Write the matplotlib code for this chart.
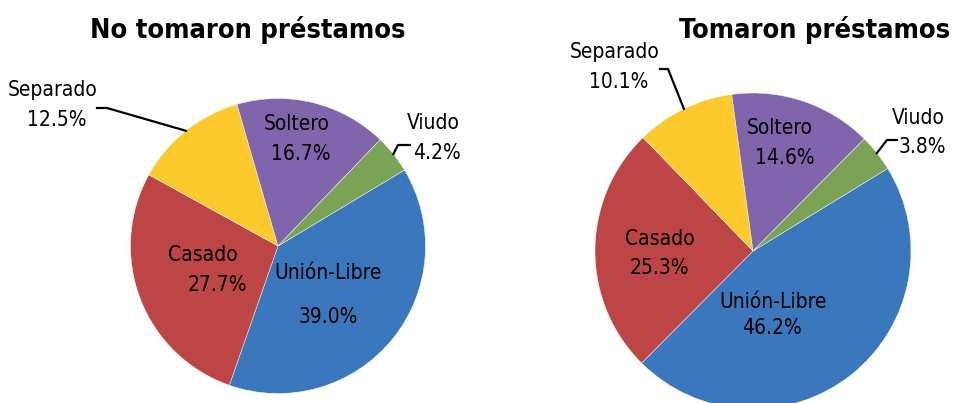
import matplotlib
matplotlib.use("Agg")
import matplotlib.pyplot as plt
from matplotlib import font_manager
from matplotlib.font_manager import FontProperties
import numpy as np

# ==========================
# DATA
# ==========================
categorias = ["Unión-Libre", "Casado", "Separado", "Soltero", "Viudo"]
no_tomaron = [39.0, 27.7, 12.5, 16.7, 4.2]
tomaron = [46.2, 25.3, 10.1, 14.6, 3.8]
titulos = ["No tomaron préstamos", "Tomaron préstamos"]
colores = ["#3B77BC", "#BE4545", "#FDCA2E", "#8064AC", "#7BA355"]

W, H = 954, 403


# look for a condensed / narrow sans font (the reference uses a narrow face)
def buscar_fuente(bold):
    cands = []
    for f in font_manager.fontManager.ttflist:
        narrow = ("Narrow" in f.name or "Condensed" in f.name
                  or "Narrow" in f.fname or "Condensed" in f.fname
                  or f.stretch in ("condensed", "semi-condensed", 400, 300))
        if not narrow or "Mono" in f.name or "Serif" in f.name:
            continue
        w = f.weight if isinstance(f.weight, int) else (700 if "bold" in str(f.weight) else 400)
        if bold and w < 600:
            continue
        if not bold and w >= 600:
            continue
        if f.style != "normal":
            continue
        pri = 0 if "Liberation" in f.name else (1 if "DejaVu" in f.name else 2)
        cands.append((pri, f.fname))
    cands.sort()
    return cands[0][1] if cands else None


f_reg = buscar_fuente(False)
f_bold = buscar_fuente(True)


def fp(size, bold=False):
    path = f_bold if bold else f_reg
    if path:
        return FontProperties(fname=path, size=size)
    return FontProperties(family="Roboto", weight="bold" if bold else "normal",
                          size=size * 0.92)


fig = plt.figure(figsize=(W / 100, H / 100), dpi=100)
ax = fig.add_axes([0, 0, 1, 1])


def Y(py):
    return H - py


# layout per pie: center (px), radius, start angle, title pos,
# label positions (name, pct) per category, leader elbows
layouts = [
    dict(c=(278, 246), r=147.5, start=31, title=(248, 30),
         lab={"Unión-Libre": ((328, 273), (328, 317)),
              "Casado": ((203, 255), (217, 285)),
              "Separado": ((53, 90), (57, 120)),
              "Soltero": ((297, 124), (301, 154)),
              "Viudo": ((433, 123), (437, 153))},
         lead={"Separado": [(97, 108), (107, 108)],
               "Viudo": [(410, 145), (398, 145)]}),
    dict(c=(753, 251), r=158, start=31.5, title=(815, 30),
         lab={"Unión-Libre": ((773, 302), (772, 328)),
              "Casado": ((660, 239), (659, 268)),
              "Separado": ((615, 52), (619, 82)),
              "Soltero": ((780, 128), (785, 158)),
              "Viudo": ((918, 118), (922, 147))},
         lead={"Separado": [(660, 69), (668, 69)],
               "Viudo": [(897, 140), (887, 140)]}),
]

for vals, titulo, lay in zip([no_tomaron, tomaron], titulos, layouts):
    cx, cy = lay["c"]
    wedges, _ = ax.pie(vals, colors=colores, startangle=lay["start"],
                       counterclock=False, radius=lay["r"],
                       center=(cx, Y(cy)), frame=True,
                       wedgeprops=dict(edgecolor="white", linewidth=0.3))

    ax.text(lay["title"][0], Y(lay["title"][1]), titulo,
            fontproperties=fp(19.5, bold=True), ha="center", va="center")

    for w, cat, v in zip(wedges, categorias, vals):
        (nx, ny), (px, py) = lay["lab"][cat]
        ax.text(nx, Y(ny), cat, fontproperties=fp(15), ha="center", va="center")
        ax.text(px, Y(py), f"{v:.1f}%", fontproperties=fp(15), ha="center", va="center")
        if cat in lay["lead"]:
            mid = np.deg2rad((w.theta1 + w.theta2) / 2)
            rx = cx + lay["r"] * np.cos(mid)
            ry = Y(cy) + lay["r"] * np.sin(mid)
            pts = lay["lead"][cat]
            xs = [pts[0][0], pts[1][0], rx]
            ys = [Y(pts[0][1]), Y(pts[1][1]), ry]
            ax.plot(xs, ys, color="black", linewidth=1.6, clip_on=False)

ax.set_xlim(0, W)
ax.set_ylim(0, H)
ax.set_aspect("equal")
ax.axis("off")
plt.savefig("out.png", dpi=100)
